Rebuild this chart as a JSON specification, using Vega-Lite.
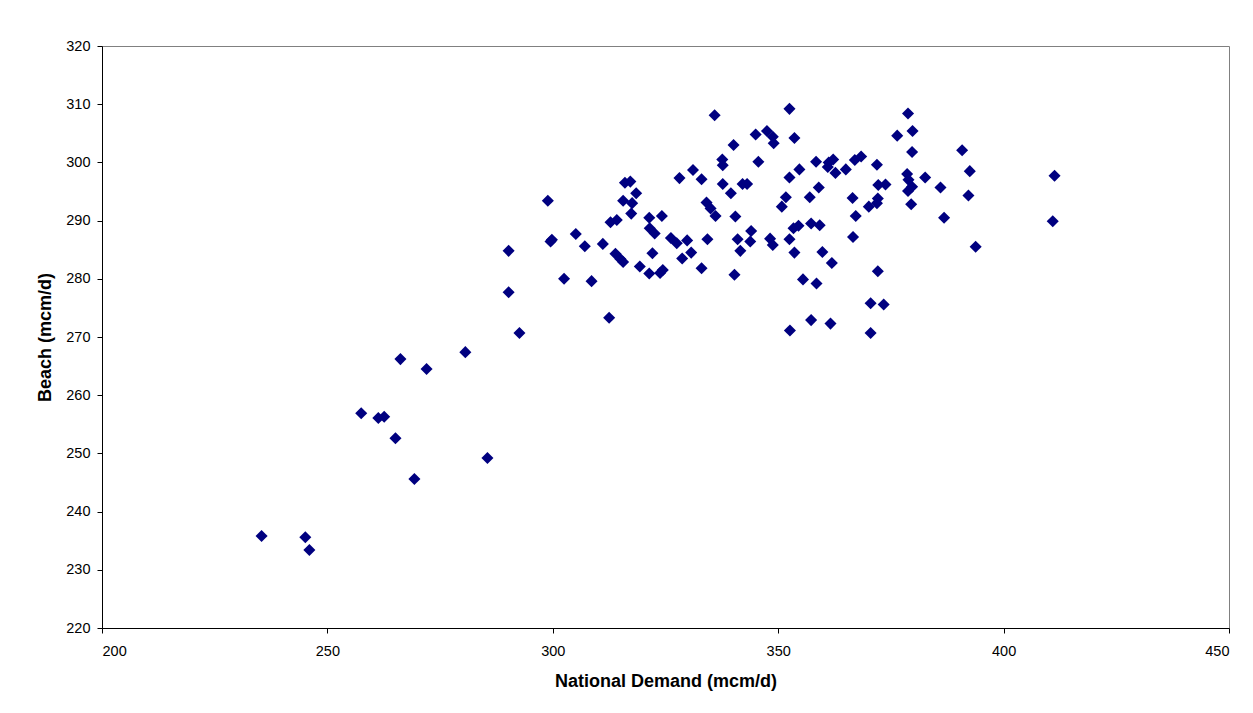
{
  "$schema": "https://vega.github.io/schema/vega-lite/v6.json",
  "autosize": "none",
  "width": 1127,
  "height": 582,
  "padding": {"left": 102, "top": 46, "right": 24, "bottom": 85},
  "background": "white",
  "config": {
    "view": {"stroke": "#808080", "strokeWidth": 1},
    "font": "Liberation Sans"
  },
  "data": {"values": [
    {"demand":235.4,"beach":235.8},{"demand":245.1,"beach":235.6},{"demand":246.0,"beach":233.4},
    {"demand":257.5,"beach":256.9},{"demand":261.3,"beach":256.1},{"demand":262.6,"beach":256.3},
    {"demand":265.1,"beach":252.6},{"demand":266.2,"beach":266.2},{"demand":269.3,"beach":245.6},
    {"demand":272.0,"beach":264.5},{"demand":280.6,"beach":267.4},{"demand":285.5,"beach":249.2},
    {"demand":290.2,"beach":284.8},{"demand":290.2,"beach":277.7},{"demand":292.6,"beach":270.7},
    {"demand":298.9,"beach":293.4},{"demand":299.5,"beach":286.4},{"demand":299.8,"beach":286.7},
    {"demand":302.5,"beach":280.0},{"demand":305.1,"beach":287.7},{"demand":307.1,"beach":285.6},
    {"demand":308.6,"beach":279.6},{"demand":311.1,"beach":286.0},{"demand":312.5,"beach":273.3},
    {"demand":312.8,"beach":289.7},{"demand":314.2,"beach":290.1},{"demand":313.9,"beach":284.3},
    {"demand":315.0,"beach":283.4},{"demand":315.6,"beach":282.9},{"demand":315.6,"beach":293.4},
    {"demand":317.6,"beach":293.0},{"demand":318.5,"beach":294.7},{"demand":317.4,"beach":291.2},
    {"demand":316.0,"beach":296.5},{"demand":317.2,"beach":296.7},{"demand":319.3,"beach":282.1},
    {"demand":321.4,"beach":280.9},{"demand":323.8,"beach":281.0},{"demand":324.4,"beach":281.5},
    {"demand":322.1,"beach":284.4},{"demand":321.4,"beach":290.5},{"demand":321.5,"beach":288.7},
    {"demand":322.6,"beach":287.8},{"demand":324.2,"beach":290.8},{"demand":326.2,"beach":287.0},
    {"demand":327.5,"beach":286.1},{"demand":329.8,"beach":286.6},{"demand":328.7,"beach":283.5},
    {"demand":330.7,"beach":284.5},{"demand":333.0,"beach":281.8},{"demand":334.3,"beach":286.8},
    {"demand":328.1,"beach":297.3},{"demand":331.1,"beach":298.7},{"demand":333.0,"beach":297.1},
    {"demand":334.1,"beach":293.1},{"demand":335.0,"beach":292.1},{"demand":336.1,"beach":290.8},
    {"demand":337.7,"beach":296.3},{"demand":339.5,"beach":294.7},{"demand":340.5,"beach":290.7},
    {"demand":340.3,"beach":280.7},{"demand":335.9,"beach":308.1},{"demand":340.1,"beach":303.0},
    {"demand":337.6,"beach":300.5},{"demand":337.7,"beach":299.5},{"demand":341.0,"beach":286.8},
    {"demand":341.6,"beach":284.8},{"demand":344.0,"beach":288.2},{"demand":343.8,"beach":286.4},
    {"demand":342.1,"beach":296.3},{"demand":343.1,"beach":296.3},{"demand":352.5,"beach":309.2},
    {"demand":345.0,"beach":304.8},{"demand":347.5,"beach":305.4},{"demand":348.8,"beach":304.4},
    {"demand":349.0,"beach":303.3},{"demand":353.6,"beach":304.2},{"demand":345.6,"beach":300.1},
    {"demand":358.4,"beach":300.1},{"demand":361.2,"beach":300.0},{"demand":362.2,"beach":300.5},
    {"demand":361.0,"beach":299.2},{"demand":362.7,"beach":298.2},{"demand":365.0,"beach":298.8},
    {"demand":367.0,"beach":300.4},{"demand":368.4,"beach":301.0},{"demand":371.9,"beach":299.6},
    {"demand":354.7,"beach":298.8},{"demand":352.5,"beach":297.4},{"demand":378.8,"beach":308.4},
    {"demand":379.8,"beach":305.4},{"demand":376.4,"beach":304.6},{"demand":379.7,"beach":301.8},
    {"demand":390.8,"beach":302.1},{"demand":392.5,"beach":298.5},{"demand":392.2,"beach":294.3},
    {"demand":393.8,"beach":285.5},{"demand":378.6,"beach":298.0},{"demand":378.9,"beach":297.0},
    {"demand":379.7,"beach":295.8},{"demand":378.8,"beach":295.1},{"demand":382.6,"beach":297.4},
    {"demand":386.0,"beach":295.7},{"demand":379.5,"beach":292.8},{"demand":386.8,"beach":290.5},
    {"demand":359.0,"beach":295.7},{"demand":357.0,"beach":294.0},{"demand":351.7,"beach":294.0},
    {"demand":350.8,"beach":292.4},{"demand":366.5,"beach":293.9},{"demand":372.2,"beach":296.1},
    {"demand":373.8,"beach":296.2},{"demand":372.1,"beach":293.8},{"demand":370.1,"beach":292.4},
    {"demand":371.9,"beach":293.0},{"demand":367.2,"beach":290.8},{"demand":366.6,"beach":287.2},
    {"demand":354.5,"beach":289.1},{"demand":353.4,"beach":288.7},{"demand":357.3,"beach":289.5},
    {"demand":359.2,"beach":289.2},{"demand":352.5,"beach":286.8},{"demand":353.6,"beach":284.5},
    {"demand":359.8,"beach":284.6},{"demand":361.9,"beach":282.7},{"demand":348.2,"beach":286.9},
    {"demand":348.8,"beach":285.8},{"demand":355.5,"beach":279.9},{"demand":358.5,"beach":279.2},
    {"demand":372.1,"beach":281.3},{"demand":370.5,"beach":275.8},{"demand":373.4,"beach":275.6},
    {"demand":357.3,"beach":272.9},{"demand":361.6,"beach":272.3},{"demand":352.6,"beach":271.1},
    {"demand":370.5,"beach":270.7},{"demand":411.3,"beach":297.7},{"demand":410.9,"beach":289.9}
  ]},
  "mark": {"type": "point", "shape": "diamond", "filled": true, "size": 145, "color": "#000080", "opacity": 1},
  "encoding": {
    "x": {
      "field": "demand", "type": "quantitative",
      "scale": {"domain": [200, 450], "nice": false, "zero": false},
      "axis": {
        "title": "National Demand (mcm/d)",
        "values": [200, 250, 300, 350, 400, 450],
        "grid": false,
        "domainColor": "#000000", "tickColor": "#000000", "tickSize": 5,
        "labelColor": "#000000", "labelFontSize": 14.5, "labelPadding": 11,
        "titleFontSize": 18, "titleFontWeight": "bold", "titleColor": "#000000", "titlePadding": 15
      }
    },
    "y": {
      "field": "beach", "type": "quantitative",
      "scale": {"domain": [220, 320], "nice": false, "zero": false},
      "axis": {
        "title": "Beach (mcm/d)",
        "values": [220, 230, 240, 250, 260, 270, 280, 290, 300, 310, 320],
        "grid": false,
        "domainColor": "#000000", "tickColor": "#000000", "tickSize": 5,
        "labelColor": "#000000", "labelFontSize": 14.5, "labelPadding": 7,
        "titleFontSize": 18, "titleFontWeight": "bold", "titleColor": "#000000", "titlePadding": 11
      }
    }
  }
}
